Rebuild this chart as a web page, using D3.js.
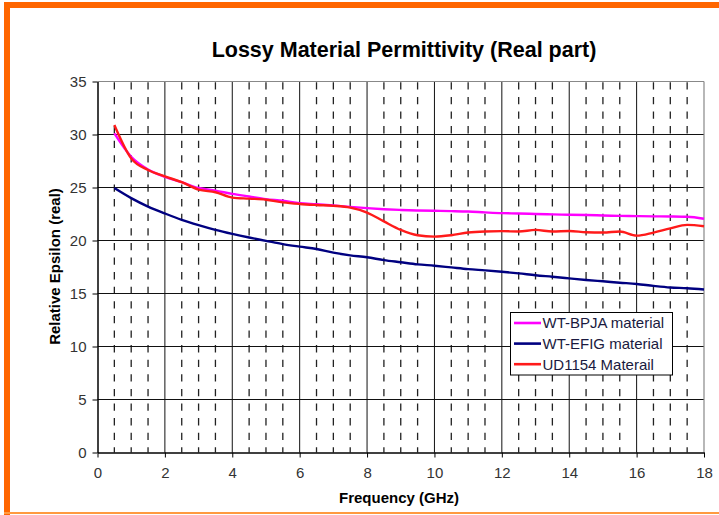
<!DOCTYPE html>
<html><head><meta charset="utf-8">
<script src="https://cdn.jsdelivr.net/npm/d3@7"></script>
<style>html,body{margin:0;padding:0;background:#fff;}svg{display:block;}</style>
</head><body>
<svg id="chart" width="719" height="515"></svg>
<script>
const freq = [0.5,1,1.5,2,2.5,3,3.5,4,4.5,5,5.5,6,6.5,7,7.5,8,8.5,9,9.5,10,10.5,11,11.5,12,12.5,13,13.5,14,14.5,15,15.5,16,16.5,17,17.5,18];
const bpja = [30.1,27.9,26.7,26.0,25.5,24.95,24.7,24.4,24.15,23.9,23.75,23.52,23.42,23.3,23.17,23.05,22.95,22.88,22.83,22.8,22.77,22.73,22.65,22.58,22.55,22.5,22.46,22.43,22.4,22.36,22.32,22.3,22.28,22.27,22.24,22.05];
const efig = [24.95,24.0,23.2,22.55,21.95,21.45,21.0,20.62,20.28,19.97,19.66,19.42,19.2,18.85,18.6,18.42,18.15,17.95,17.75,17.62,17.46,17.3,17.18,17.05,16.9,16.72,16.58,16.43,16.28,16.15,16.02,15.9,15.72,15.57,15.5,15.38];
const ud1154 = [30.9,27.75,26.65,26.05,25.5,24.8,24.55,24.05,23.95,23.85,23.6,23.45,23.35,23.27,23.1,22.64,21.8,21.0,20.5,20.37,20.5,20.75,20.85,20.88,20.85,21.0,20.85,20.9,20.78,20.75,20.85,20.46,20.75,21.15,21.47,21.35];
const seriesNames = ["WT-BPJA material","WT-EFIG material","UD1154 Materail"];
const seriesColors = ["#FF00FF","#000080","#FF1A1A"];
const xTicks = [0,2,4,6,8,10,12,14,16,18];
const yTicks = [0,5,10,15,20,25,30,35];
const dashedX = [0.5,1,1.5,2.5,3,3.5,4.5,5,5.5,6.5,7,7.5,8.5,9,9.5,10.5,11,11.5,12.5,13,13.5,14.5,15,15.5,16.5,17,17.5];

const svg = d3.select("#chart");
const x = d3.scaleLinear().domain([0,18]).range([97.5,704]);
const y = d3.scaleLinear().domain([0,35]).range([452.5,81.5]);

// orange frame
svg.append("rect").attr("x",4).attr("y",2).attr("width",715).attr("height",6).attr("fill","#FF6600");
svg.append("rect").attr("x",4).attr("y",2).attr("width",6).attr("height",513).attr("fill","#FF6600");
svg.append("rect").attr("x",4).attr("y",512).attr("width",715).attr("height",2).attr("fill","#FF9A40");

// title
svg.append("text").attr("x",404).attr("y",57).attr("text-anchor","middle")
  .attr("font-family","Liberation Sans, Arial, sans-serif").attr("font-weight","bold")
  .attr("font-size","21.5px").attr("fill","#000").text("Lossy Material Permittivity (Real part)");

const g = svg.append("g");
// dashed verticals
g.selectAll("line.dv").data(dashedX).enter().append("line")
  .attr("x1",d=>x(d)).attr("x2",d=>x(d)).attr("y1",y(35)+0.8).attr("y2",y(0))
  .attr("stroke","#222").attr("stroke-width",1.3).attr("stroke-dasharray","7.3,7.3");
// solid verticals
g.selectAll("line.sv").data(xTicks.filter(d=>d>0&&d<18)).enter().append("line")
  .attr("x1",d=>x(d)).attr("x2",d=>x(d)).attr("y1",y(35)).attr("y2",y(0))
  .attr("stroke","#111").attr("stroke-width",1);
// horizontals
g.selectAll("line.h").data(yTicks.filter(d=>d>0&&d<35)).enter().append("line")
  .attr("x1",x(0)).attr("x2",x(18)).attr("y1",d=>y(d)).attr("y2",d=>y(d))
  .attr("stroke","#111").attr("stroke-width",1);
// plot border top/right gray
g.append("line").attr("x1",x(0)).attr("x2",x(18)).attr("y1",y(35)).attr("y2",y(35)).attr("stroke","#888").attr("stroke-width",1.2);
g.append("line").attr("x1",x(18)).attr("x2",x(18)).attr("y1",y(35)).attr("y2",y(0)).attr("stroke","#888").attr("stroke-width",1.2);

// axes
const xAxis = d3.axisBottom(x).tickValues(xTicks).tickSize(5).tickSizeOuter(0).tickPadding(10);
const yAxis = d3.axisLeft(y).tickValues(yTicks).tickSize(5).tickSizeOuter(0).tickPadding(6);
const gx = svg.append("g").attr("transform",`translate(0,${y(0)})`).call(xAxis);
const gy = svg.append("g").attr("transform",`translate(${x(0)},0)`).call(yAxis);
[gx,gy].forEach(a=>{
  a.select(".domain").attr("stroke","#000").attr("stroke-width",1.5);
  a.selectAll(".tick line").attr("stroke","#000").attr("stroke-width",1);
  a.selectAll(".tick text").attr("font-family","Liberation Sans, Arial, sans-serif").attr("font-size","15px").attr("fill","#333");
});

// series lines
const all = [bpja, efig, ud1154];
const line = d3.line().x((d,i)=>x(freq[i])).y(d=>y(d)).curve(d3.curveMonotoneX);
all.forEach((s,k)=>{
  svg.append("path").datum(s).attr("d",line).attr("fill","none")
    .attr("stroke",seriesColors[k]).attr("stroke-width",2.4).attr("stroke-linejoin","round");
});

// axis titles
svg.append("text").attr("x",399).attr("y",503).attr("text-anchor","middle")
  .attr("font-family","Liberation Sans, Arial, sans-serif").attr("font-weight","bold")
  .attr("font-size","15px").attr("fill","#000").text("Frequency (GHz)");
svg.append("text").attr("transform","translate(60,266.5) rotate(-90)").attr("text-anchor","middle")
  .attr("font-family","Liberation Sans, Arial, sans-serif").attr("font-weight","bold")
  .attr("font-size","15px").attr("fill","#000").text("Relative Epsilon (real)");

// legend
const lg = svg.append("g");
lg.append("rect").attr("x",510.5).attr("y",312.5).attr("width",162).attr("height",62.5)
  .attr("fill","#fff").attr("stroke","#000").attr("stroke-width",1);
seriesNames.forEach((n,i)=>{
  const yy = 323 + i*20.6;
  lg.append("line").attr("x1",514).attr("x2",541).attr("y1",yy).attr("y2",yy)
    .attr("stroke",seriesColors[i]).attr("stroke-width",2.6);
  lg.append("text").attr("x",542.5).attr("y",yy+5.3)
    .attr("font-family","Liberation Sans, Arial, sans-serif").attr("font-size","15px")
    .attr("fill","#1a1a40").text(n);
});
</script>
</body></html>
